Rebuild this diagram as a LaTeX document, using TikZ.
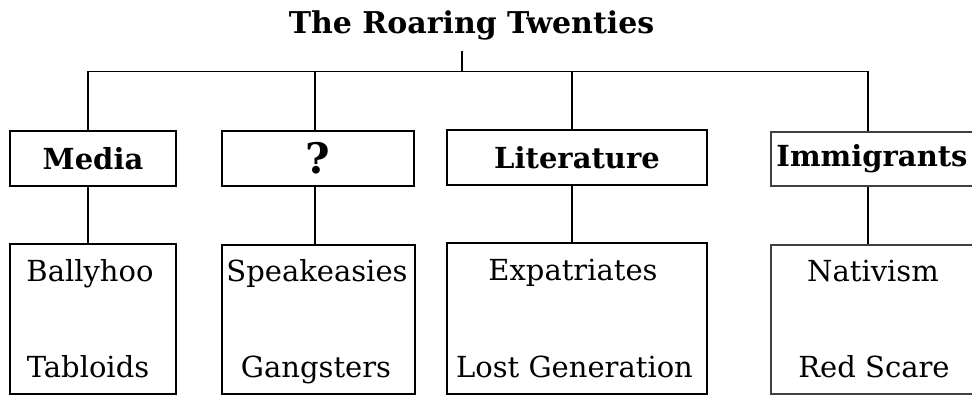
\documentclass[tikz,border=0pt]{standalone}
\usepackage{fontspec}
\setmainfont{DejaVu Serif}
\begin{document}
\begin{tikzpicture}[x=1pt,y=-1pt,
  line width=1.6pt,
  hdr/.style={draw, inner sep=0pt, font=\fontsize{29}{32}\selectfont\bfseries},
  itembox/.style={draw, inner sep=0pt},
  item/.style={anchor=base, inner sep=0pt, font=\fontsize{29}{32}\selectfont},
  soft/.style={draw=black!75, line width=1.2pt}]
\useasboundingbox (0,0) rectangle (972,396);

% title
\node[anchor=base, inner sep=0pt, font=\fontsize{30}{34}\selectfont\bfseries] (title) at (471.5,34) {The Roaring Twenties};

% column axes
\coordinate (top) at (462,51);
\coordinate (hub) at (462,71.5);
\coordinate (c1) at (88,71.5);
\coordinate (c2) at (315,71.5);
\coordinate (c3) at (572,71.5);
\coordinate (c4) at (868,71.5);

% category boxes
\node[hdr, minimum width=166pt, minimum height=55pt] (media) at (93,158.5) {Media};
\node[hdr, minimum width=192pt, minimum height=55pt, font=\fontsize{42}{44}\selectfont\bfseries] (quest) at (318,158.5) {?};
\node[hdr, minimum width=260pt, minimum height=55pt] (lit) at (577,157.5) {Literature};
\node[hdr, soft, minimum width=202pt, minimum height=54pt] (imm) at (872,159) {Immigrants};

% detail boxes
\node[itembox, minimum width=166pt, minimum height=150pt] (b1) at (93,319) {};
\node[itembox, minimum width=193pt, minimum height=149pt] (b2) at (318.5,319.5) {};
\node[itembox, minimum width=260pt, minimum height=151pt] (b3) at (577,318.5) {};
\node[itembox, soft, minimum width=202pt, minimum height=149pt] (b4) at (872,319.5) {};

\node[item] (t1a) at (90,281) {Ballyhoo};
\node[item] (t1b) at (88,377) {Tabloids};
\node[item] (t2a) at (317,281) {Speakeasies};
\node[item] (t2b) at (316,377) {Gangsters};
\node[item] (t3a) at (573,280) {Expatriates};
\node[item] (t3b) at (574.5,377) {Lost Generation};
\node[item] (t4a) at (873,281) {Nativism};
\node[item] (t4b) at (874,377) {Red Scare};

% connectors
\draw (top) -- (hub);
\draw (c1) -- (c4);
\draw (c1) -- (media.north -| c1);
\draw (c2) -- (quest.north -| c2);
\draw (c3) -- (lit.north -| c3);
\draw (c4) -- (imm.north -| c4);
\draw (media.south -| c1) -- (b1.north -| c1);
\draw (quest.south -| c2) -- (b2.north -| c2);
\draw (lit.south -| c3) -- (b3.north -| c3);
\draw (imm.south -| c4) -- (b4.north -| c4);
\end{tikzpicture}
\end{document}
